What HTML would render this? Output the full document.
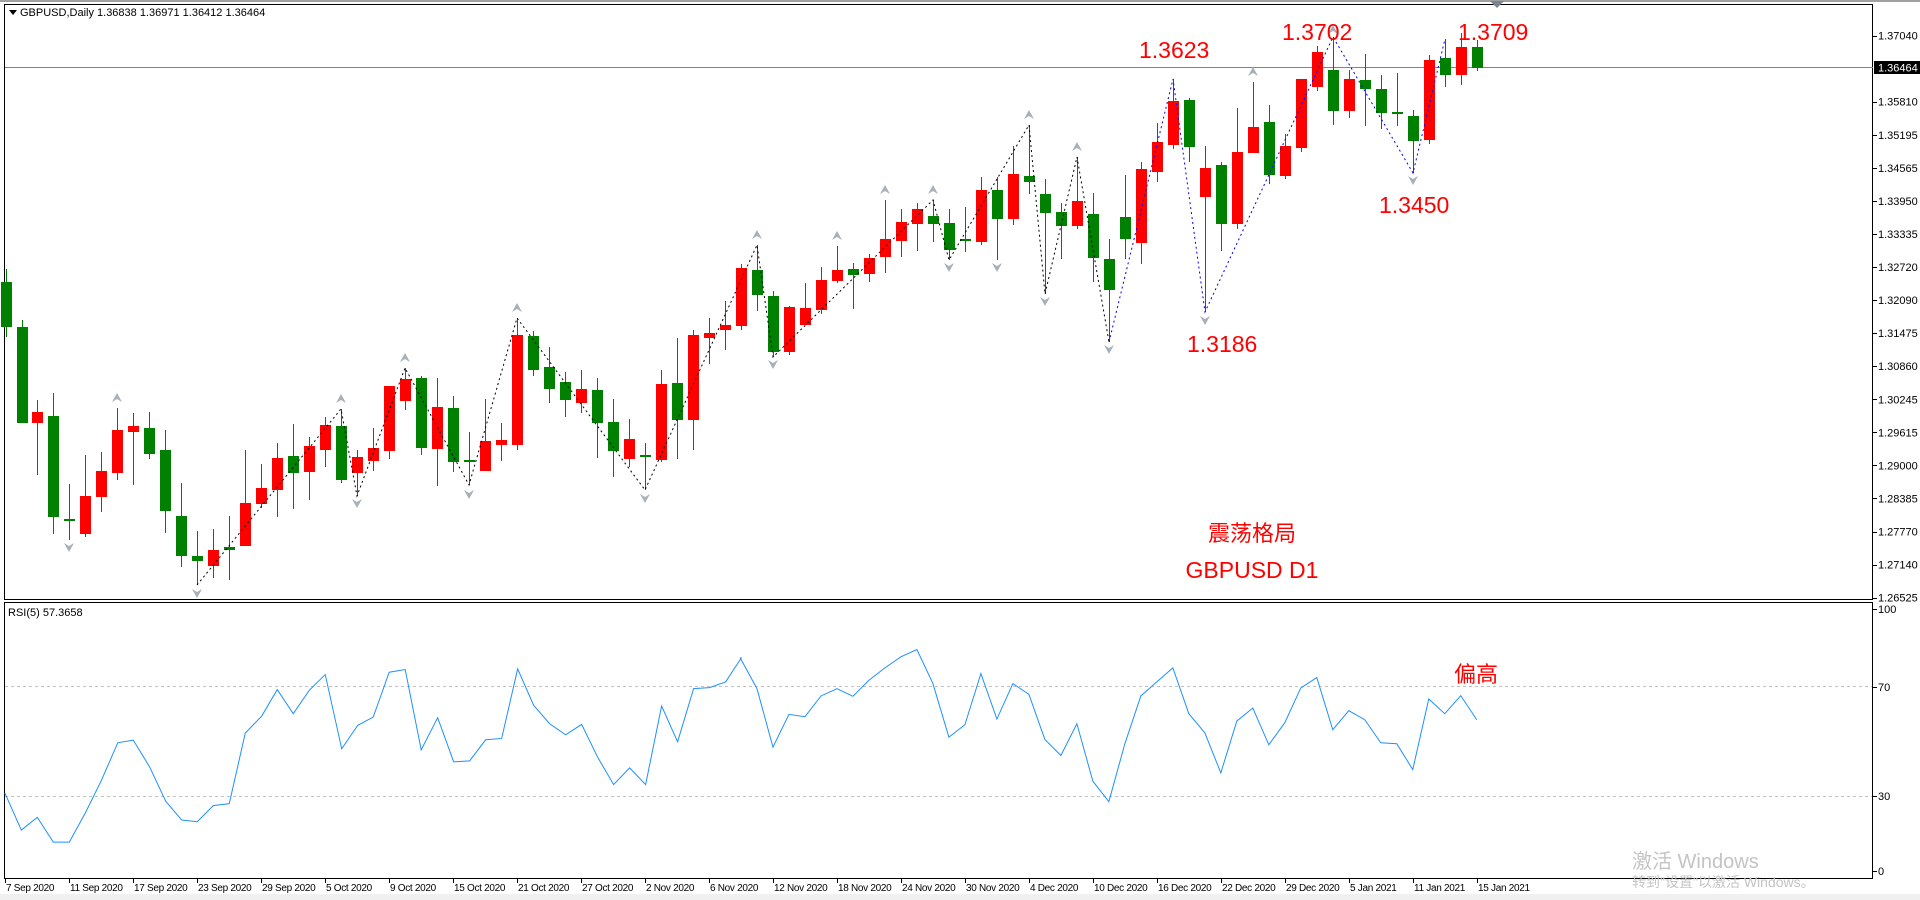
<!DOCTYPE html>
<html><head><meta charset="utf-8">
<style>
html,body{margin:0;padding:0;background:#fff;}
body{width:1920px;height:900px;overflow:hidden;position:relative;font-family:"Liberation Sans","Noto Sans CJK SC",sans-serif;}
svg{position:absolute;left:0;top:0;}
</style></head><body>
<svg id="s" width="1920" height="900" xmlns="http://www.w3.org/2000/svg" font-family="Liberation Sans, Noto Sans CJK SC, sans-serif">
<rect x="0" y="0" width="1920" height="900" fill="#fff"/>
<rect x="0" y="0" width="1920" height="2" fill="#a0a0a0"/>
<rect x="0" y="894" width="1920" height="6" fill="#f0f0f0"/>
<rect x="4.5" y="4.5" width="1868" height="595" fill="none" stroke="#000" stroke-width="1"/>
<rect x="4.5" y="602.5" width="1868" height="276" fill="none" stroke="#000" stroke-width="1"/>
<line x1="5" y1="686.5" x2="1872" y2="686.5" stroke="#c0c0c0" stroke-dasharray="3,3"/>
<line x1="5" y1="796.5" x2="1872" y2="796.5" stroke="#c0c0c0" stroke-dasharray="3,3"/>
<line x1="5" y1="67.5" x2="1873" y2="67.5" stroke="#7a8590" stroke-width="1"/>
<g id="candles"></g>
<g id="zz"></g>
<polyline fill="none" stroke="#1e90ff" stroke-width="1" vector-effect="non-scaling-stroke" transform="translate(0,600) scale(0.4847,0.3344)" points="10,577 44,688 77,650 110,724 143,724 176,637 209,540 243,427 275,419 309,500 342,602 375,658 407,663 440,615 473,609 506,398 540,347 572,268 605,340 638,270 671,223 705,445 738,375 770,350 803,216 836,208 869,448 903,352 936,484 969,481 1002,418 1035,414 1068,206 1101,315 1134,370 1167,403 1200,372 1233,470 1266,552 1299,502 1332,552 1365,317 1398,424 1431,265 1464,262 1497,245 1530,172"/>
<polyline fill="none" stroke="#1e90ff" stroke-width="1" vector-effect="non-scaling-stroke" transform="translate(740,600) scale(0.4847,0.3344)" points="0,172 35,265 68,440 101,342 134,349 167,287 200,265 233,288 266,240 299,203 332,170 365,148 398,250 431,410 464,373 497,220 530,356 563,250 596,282 629,417 662,465 695,370 728,542 761,603 794,430 827,287 860,245 893,203 926,340 959,397 992,517 1025,362 1058,323 1091,433 1124,367 1157,263 1190,232 1223,388 1256,331 1289,358 1322,427 1355,430 1388,507 1421,296 1454,340 1487,286 1520,358"/>
<g id="axis" font-size="11" fill="#000"></g>
<polygon points="9,10 17,10 13,15" fill="#000"/>
<text x="20" y="16" font-size="11" fill="#000">GBPUSD,Daily  1.36838 1.36971 1.36412 1.36464</text>
<text x="8" y="616" font-size="11" fill="#000">RSI(5) 57.3658</text>
<rect x="1874" y="61" width="46" height="13" fill="#000"/>
<text x="1878" y="71.5" font-size="11" fill="#fff">1.36464</text>
<polygon points="1490,1 1504,1 1497,8" fill="#7a8590"/>
<g fill="#ff0000" font-size="23">
<text x="1139" y="58">1.3623</text>
<text x="1282" y="40">1.3702</text>
<text x="1458" y="40">1.3709</text>
<text x="1187" y="352">1.3186</text>
<text x="1379" y="213">1.3450</text>
<text x="1252" y="541" text-anchor="middle" font-size="22">震荡格局</text>
<text x="1252" y="578" text-anchor="middle">GBPUSD D1</text>
<text x="1454" y="682" font-size="22">偏高</text>
</g>
<text x="1632" y="868" font-size="20" fill="#c4c4c4">激活 Windows</text>
<text x="1632" y="887" font-size="14" fill="#c4c4c4">转到"设置"以激活 Windows。</text>
</svg>
<script>
var NS="http://www.w3.org/2000/svg";
function el(p,t,a){var e=document.createElementNS(NS,t);for(var k in a)e.setAttribute(k,a[k]);p.appendChild(e);return e;}
var C=[
[6,'g',269,282,327,337],[21.7,'g',320,327,423,423],[37.3,'r',400,412,423,475],[53.3,'g',393,416,517,534],[69.3,'g',484,519,521,540],
[85.3,'r',455,496,534,537],[101.3,'r',452,471,497,512],[117.3,'r',408,430,473,480],[133.3,'r',413,426,432,485],[149.3,'g',412,428,454,459],
[165.3,'g',430,450,511,533],[181.3,'g',483,516,556,567],[197.3,'g',531,556,561,585],[213.3,'r',529,550,566,578],[229.3,'g',516,547,550,580],
[245.3,'r',450,503,546,546],[261.3,'r',464,488,504,508],[277.3,'r',443,458,490,517],[293.3,'g',424,456,473,509],[309.3,'r',437,446,472,500],
[325.3,'r',417,425,450,467],[341.3,'g',409,426,480,483],[357.3,'r',450,457,473,496],[373.3,'r',428,448,461,471],[389.3,'r',386,386,451,459],
[405.3,'r',368,379,401,410],[421.3,'g',376,378,448,455],[437.3,'r',378,407,449,486],[453.3,'g',396,408,462,472],[469.3,'g',432,460,462,485],
[485.3,'r',399,441,471,471],[501.3,'r',423,440,445,461],[517.3,'r',318,335,445,450],[533.3,'g',331,336,370,376],[549.3,'g',347,367,389,403],
[565.3,'g',372,382,400,417],[581.3,'r',370,389,403,413],[597.3,'g',378,390,423,458],[613.3,'g',399,422,451,477],[629.3,'r',419,439,459,467],
[645.3,'g',443,455,457,490],[661.3,'r',370,384,460,462],[677.3,'g',338,383,420,459],[693.3,'r',330,335,420,450],[709.3,'r',318,333,338,364],
[725.3,'r',301,325,330,350],[741.3,'r',264,268,326,330],[757.3,'g',245,270,295,311],[773.3,'g',291,296,352,357],[789.3,'r',306,307,352,355],
[805.3,'r',283,308,325,325],[821.3,'r',267,280,310,314],[837.3,'r',246,270,281,283],[853.3,'g',263,269,275,309],[869.3,'r',254,258,274,282],
[885.3,'r',200,239,257,273],[901.3,'r',209,222,241,257],[917.3,'r',203,209,224,251],[933.3,'g',200,216,224,242],[949.3,'g',209,223,250,260],
[965.3,'g',207,239,241,252],[981.3,'r',177,190,242,245],[997.3,'g',177,190,219,260],[1013.3,'r',146,174,219,225],[1029.3,'g',125,176,182,194],
[1045.3,'g',179,194,213,294],[1061.3,'g',203,212,226,259],[1077.3,'r',157,201,226,229],[1093.3,'g',193,214,258,282],[1109.3,'g',239,259,290,342],
[1125.3,'g',175,217,239,259],[1141.3,'r',162,169,243,264],[1157.3,'r',123,142,172,182],[1173.3,'r',79,101,145,149],[1189.3,'g',98,100,147,162],
[1205.3,'r',146,168,197,312],[1221.3,'g',162,165,224,251],[1237.3,'r',108,152,224,229],[1253.3,'r',82,127,153,153],[1269.3,'g',105,122,175,184],
[1285.3,'r',134,146,176,179],[1301.3,'r',79,79,148,152],[1317.3,'r',46,52,87,91],[1333.3,'g',37,70,111,125],[1349.3,'r',70,79,111,118],
[1365.3,'g',54,80,89,126],[1381.3,'g',75,89,113,129],[1397.3,'g',73,112,114,126],[1413.3,'g',110,116,141,173],[1429.3,'r',55,60,140,144],
[1445.3,'g',39,58,75,87],[1461.3,'r',33,47,75,85],[1477.3,'g',40,47,68,71]];
var g=document.getElementById('candles');
C.forEach(function(c){var col=c[1]=='g'?'#008000':'#ff0000';var x=Math.round(c[0]);
el(g,'rect',{x:x,y:c[2],width:1,height:c[5]-c[2],fill:col});
var h=Math.max(2,c[4]-c[3]);el(g,'rect',{x:x-5,y:c[3],width:11,height:h,fill:col});});
var z=document.getElementById('zz');
el(z,'polyline',{points:"197,585 341,409 357,496 405,368 469,485 517,318 645,490 757,245 773,357 933,200 949,260 1029,125 1045,294 1077,157 1109,342",fill:'none',stroke:'#000','stroke-dasharray':'2,3'});
el(z,'polyline',{points:"1109,342 1173,79 1205,312 1333,37 1413,173 1445,39",fill:'none',stroke:'#0000ff','stroke-dasharray':'2,3'});
var ups=[[117,398],[341,399],[405,358],[517,308],[757,235],[837,236],[885,190],[933,190],[1029,115],[1077,147],[1253,72],[1333,30]];
var dns=[[69,547],[197,593],[357,503],[469,494],[645,498],[773,364],[949,267],[997,267],[1045,301],[1109,349],[1205,320],[1413,180]];
ups.forEach(function(p){el(z,'polygon',{points:(p[0]-5)+','+(p[1]+4)+' '+p[0]+','+(p[1]-5)+' '+(p[0]+5)+','+(p[1]+4)+' '+p[0]+','+(p[1]+1),fill:'#a8b0b8'});});
dns.forEach(function(p){el(z,'polygon',{points:(p[0]-5)+','+(p[1]-4)+' '+p[0]+','+(p[1]+5)+' '+(p[0]+5)+','+(p[1]-4)+' '+p[0]+','+(p[1]-1),fill:'#a8b0b8'});});
var a=document.getElementById('axis');
var pl=["1.37040","","1.35810","1.35195","1.34565","1.33950","1.33335","1.32720","1.32090","1.31475","1.30860","1.30245","1.29615","1.29000","1.28385","1.27770","1.27140","1.26525"];
for(var i=0;i<18;i++){var y=35.6+i*33.06;if(i==1)continue;
el(a,'line',{x1:1873,y1:Math.round(y)+.5,x2:1877,y2:Math.round(y)+.5,stroke:'#000'});
var t=el(a,'text',{x:1878,y:y+4});t.textContent=pl[i];}
[[609,"100"],[687,"70"],[796,"30"],[871,"0"]].forEach(function(r){el(a,'line',{x1:1873,y1:r[0]+.5,x2:1877,y2:r[0]+.5,stroke:'#000'});var t=el(a,'text',{x:1878,y:r[0]+4});t.textContent=r[1];});
var dl=["7 Sep 2020","11 Sep 2020","17 Sep 2020","23 Sep 2020","29 Sep 2020","5 Oct 2020","9 Oct 2020","15 Oct 2020","21 Oct 2020","27 Oct 2020","2 Nov 2020","6 Nov 2020","12 Nov 2020","18 Nov 2020","24 Nov 2020","30 Nov 2020","4 Dec 2020","10 Dec 2020","16 Dec 2020","22 Dec 2020","29 Dec 2020","5 Jan 2021","11 Jan 2021","15 Jan 2021"];
dl.forEach(function(d,i){var x=Math.round(4.8+64*i);el(a,'line',{x1:x+.5,y1:879,x2:x+.5,y2:883,stroke:'#000'});var t=el(a,'text',{x:x+1,y:891,'font-size':10,'letter-spacing':'-0.3'});t.textContent=d;});
</script>
</body></html>
